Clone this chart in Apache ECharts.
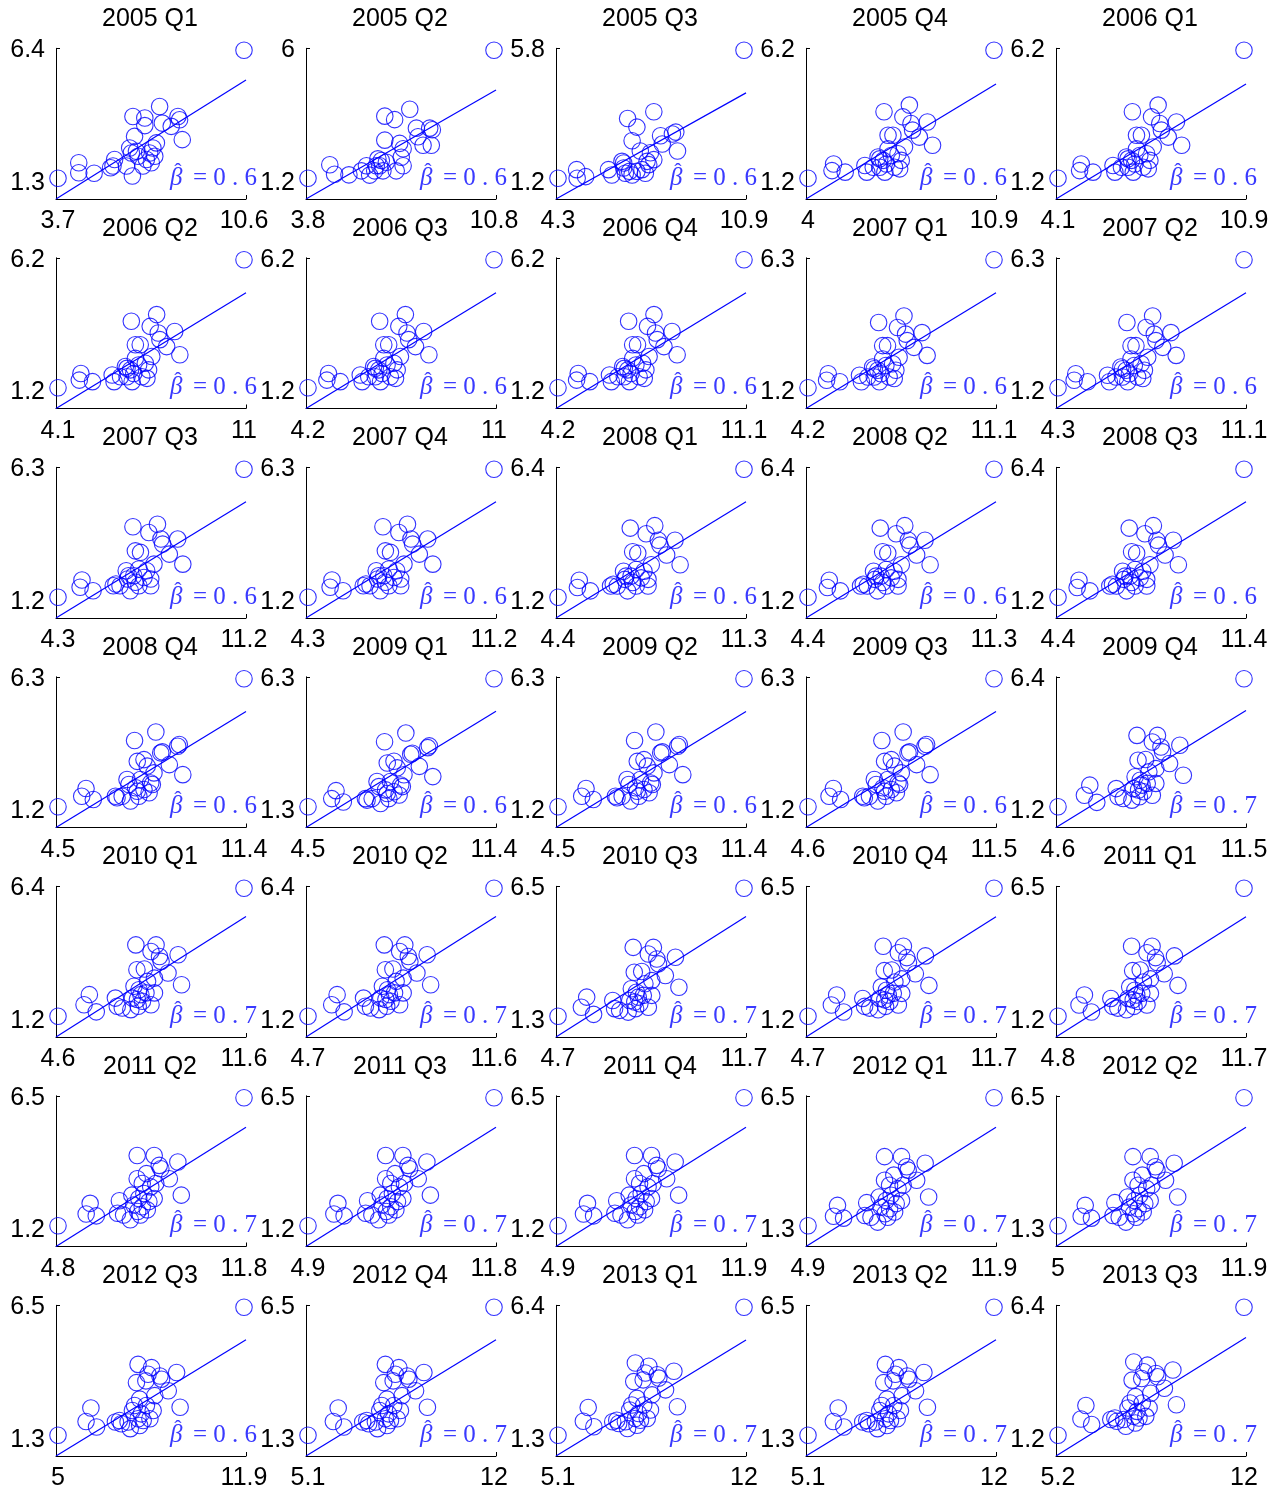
<!DOCTYPE html>
<html>
<head>
<meta charset="utf-8">
<script src="https://cdn.jsdelivr.net/npm/echarts@6/dist/echarts.min.js"></script>
<style>
html, body { margin: 0; padding: 0; background: #fff; }
#chart { width: 1284px; height: 1493px; }
</style>
</head>
<body>
<div id="chart"></div>
<script>
// panel titles, row by row
var quarters = ['2005 Q1', '2005 Q2', '2005 Q3', '2005 Q4', '2006 Q1',
    '2006 Q2', '2006 Q3', '2006 Q4', '2007 Q1', '2007 Q2',
    '2007 Q3', '2007 Q4', '2008 Q1', '2008 Q2', '2008 Q3',
    '2008 Q4', '2009 Q1', '2009 Q2', '2009 Q3', '2009 Q4',
    '2010 Q1', '2010 Q2', '2010 Q3', '2010 Q4', '2011 Q1',
    '2011 Q2', '2011 Q3', '2011 Q4', '2012 Q1', '2012 Q2',
    '2012 Q3', '2012 Q4', '2013 Q1', '2013 Q2', '2013 Q3'];

// tick labels (min / max of each panel)
var xMin = [3.7, 3.8, 4.3, 4, 4.1, 4.1, 4.2, 4.2, 4.2, 4.3, 4.3, 4.3, 4.4, 4.4, 4.4,
    4.5, 4.5, 4.5, 4.6, 4.6, 4.6, 4.7, 4.7, 4.7, 4.8, 4.8, 4.9, 4.9, 4.9, 5,
    5, 5.1, 5.1, 5.1, 5.2];
var xMax = [10.6, 10.8, 10.9, 10.9, 10.9, 11, 11, 11.1, 11.1, 11.1, 11.2, 11.2, 11.3, 11.3, 11.4,
    11.4, 11.4, 11.4, 11.5, 11.5, 11.6, 11.6, 11.7, 11.7, 11.7, 11.8, 11.8, 11.9, 11.9, 11.9,
    11.9, 12, 12, 12, 12];
var yMin = [1.3, 1.2, 1.2, 1.2, 1.2, 1.2, 1.2, 1.2, 1.2, 1.2, 1.2, 1.2, 1.2, 1.2, 1.2,
    1.2, 1.3, 1.2, 1.2, 1.2, 1.2, 1.2, 1.3, 1.2, 1.2, 1.2, 1.2, 1.2, 1.3, 1.3,
    1.3, 1.3, 1.3, 1.3, 1.2];
var yMax = [6.4, 6, 5.8, 6.2, 6.2, 6.2, 6.2, 6.2, 6.3, 6.3, 6.3, 6.3, 6.4, 6.4, 6.4,
    6.3, 6.3, 6.3, 6.3, 6.4, 6.4, 6.4, 6.5, 6.5, 6.5, 6.5, 6.5, 6.5, 6.5, 6.5,
    6.5, 6.5, 6.4, 6.5, 6.4];

// slope estimate and the fitted line's right-end value
var beta = [0.6, 0.6, 0.6, 0.6, 0.6, 0.6, 0.6, 0.6, 0.6, 0.6, 0.6, 0.6, 0.6, 0.6, 0.6,
    0.6, 0.6, 0.6, 0.6, 0.7, 0.7, 0.7, 0.7, 0.7, 0.7, 0.7, 0.7, 0.7, 0.7, 0.7,
    0.6, 0.7, 0.7, 0.7, 0.7];
var lineEnd = [5.22, 4.51, 4.27, 4.88, 4.88, 4.91, 4.91, 4.91, 4.99, 4.99, 5.01, 5.01, 5.08, 5.08, 5.08,
    5.00, 5.03, 5.00, 5.00, 5.11, 5.25, 5.25, 5.35, 5.32, 5.32, 5.28, 5.28, 5.28, 5.30, 5.30,
    5.18, 5.18, 5.10, 5.18, 5.17];

// inner points (the min and max corner points come from the tick labels)
var pts2005Q1 = [[4.47, 1.92], [4.47, 1.52], [5.04, 1.50], [5.65, 1.72], [5.80, 2.05], [6.24, 1.79], [6.46, 1.39],
    [6.42, 2.31], [6.48, 3.76], [6.54, 2.97], [6.92, 3.70], [6.92, 3.40], [6.61, 2.38], [6.85, 1.79], [6.98, 2.05],
    [7.10, 2.31], [7.16, 1.92], [7.29, 2.18], [7.35, 2.71], [7.47, 4.16], [7.57, 3.50], [7.90, 3.37], [8.15, 3.76],
    [8.21, 3.63], [8.31, 2.84], [7.22, 2.51], [6.36, 2.51], [6.67, 2.18], [5.74, 1.79]];
var pts2005Q2 = [[4.62, 1.71], [4.80, 1.35], [5.34, 1.33], [5.81, 1.48], [6.00, 1.67], [6.12, 1.32], [6.31, 1.48],
    [6.43, 1.93], [6.50, 1.67], [6.56, 1.87], [6.69, 3.53], [6.69, 2.63], [6.62, 1.48], [7.06, 3.40], [7.12, 1.48],
    [7.25, 2.51], [7.31, 1.99], [7.38, 2.31], [7.38, 1.67], [7.63, 3.79], [7.88, 3.08], [7.94, 2.76], [8.13, 2.44],
    [8.38, 3.08], [8.48, 3.02], [8.44, 2.44], [6.75, 1.80], [6.37, 1.67]];
var pts2005Q3 = [[4.96, 1.51], [4.98, 1.20], [5.28, 1.26], [6.09, 1.51], [6.21, 1.32], [6.57, 1.81], [6.63, 1.57],
    [6.69, 1.38], [6.77, 3.35], [6.84, 1.45], [6.93, 1.32], [6.93, 2.55], [7.10, 3.04], [7.22, 2.18], [7.28, 1.51],
    [7.40, 1.38], [7.46, 1.81], [7.52, 1.69], [7.58, 2.12], [7.70, 3.59], [7.70, 1.87], [7.94, 2.73], [8.00, 2.43],
    [8.36, 2.79], [8.48, 2.86], [8.54, 2.18], [6.63, 1.75], [7.10, 1.45]];
var pts2006Q1 = [[4.89, 1.50], [4.95, 1.76], [5.38, 1.44], [6.11, 1.70], [6.18, 1.44], [6.42, 1.63], [6.60, 2.03],
    [6.66, 1.63], [6.79, 1.90], [6.82, 3.80], [6.85, 1.44], [6.91, 1.76], [6.97, 2.88], [7.09, 2.09], [7.15, 2.88],
    [7.21, 1.63], [7.34, 2.16], [7.40, 1.57], [7.46, 1.90], [7.52, 3.60], [7.58, 2.42], [7.76, 4.06], [7.82, 3.34],
    [7.88, 3.08], [8.13, 2.81], [8.43, 3.40], [8.62, 2.49], [6.66, 1.96], [6.97, 2.35]];
var pts2007Q3 = [[5.12, 1.60], [5.19, 1.89], [5.60, 1.46], [6.35, 1.66], [6.45, 1.73], [6.60, 1.66], [6.83, 2.26],
    [6.88, 1.93], [6.98, 1.46], [7.08, 4.01], [7.11, 2.06], [7.17, 1.80], [7.17, 3.05], [7.30, 1.66], [7.36, 2.99],
    [7.49, 1.99], [7.59, 2.26], [7.67, 3.78], [7.74, 1.93], [7.74, 1.66], [7.86, 2.52], [7.99, 4.11], [8.12, 3.52],
    [8.18, 3.32], [8.43, 2.92], [8.74, 3.52], [8.93, 2.52], [6.92, 2.06], [7.30, 2.33]];
var pts2008Q4 = [[5.38, 1.62], [5.54, 1.93], [5.81, 1.49], [6.63, 1.62], [6.69, 1.56], [6.88, 1.62], [7.06, 2.29],
    [7.13, 2.09], [7.19, 1.43], [7.34, 3.84], [7.38, 1.96], [7.44, 3.01], [7.44, 1.82], [7.50, 1.62], [7.69, 3.08],
    [7.69, 1.89], [7.81, 2.82], [7.88, 1.76], [7.94, 2.15], [8.00, 2.09], [8.06, 2.55], [8.13, 4.18], [8.31, 3.35],
    [8.37, 3.39], [8.63, 2.88], [8.94, 3.61], [9.00, 3.68], [9.13, 2.48], [7.56, 2.29]];
var pts2010Q1 = [[5.58, 1.67], [5.78, 2.08], [6.04, 1.38], [6.76, 1.94], [6.83, 1.61], [7.02, 1.54], [7.34, 1.47],
    [7.40, 1.94], [7.46, 2.42], [7.53, 4.10], [7.57, 3.09], [7.59, 1.88], [7.62, 1.61], [7.65, 2.28], [7.78, 1.81],
    [7.85, 3.12], [7.91, 2.15], [7.97, 2.62], [8.10, 1.67], [8.10, 3.83], [8.23, 2.75], [8.23, 2.15], [8.29, 4.10],
    [8.42, 3.63], [8.48, 3.43], [8.74, 2.96], [9.12, 3.70], [9.25, 2.48], [7.72, 2.08]];
var pts2011Q2 = [[5.86, 1.69], [6.01, 2.13], [6.24, 1.61], [7.04, 1.72], [7.11, 2.24], [7.27, 1.65], [7.52, 1.45],
    [7.58, 2.47], [7.65, 2.06], [7.78, 4.11], [7.78, 3.15], [7.80, 1.79], [7.84, 2.33], [7.90, 1.65], [7.97, 1.99],
    [8.03, 2.54], [8.13, 3.36], [8.16, 1.86], [8.22, 2.20], [8.29, 2.81], [8.42, 4.11], [8.42, 2.33], [8.48, 2.95],
    [8.61, 3.70], [8.67, 3.56], [8.99, 3.15], [9.31, 3.84], [9.44, 2.47], [7.97, 2.95]];
var pts2012Q3 = [[6.04, 1.86], [6.22, 2.41], [6.43, 1.64], [7.13, 1.84], [7.28, 1.90], [7.35, 1.77], [7.68, 1.57],
    [7.76, 2.31], [7.84, 2.51], [7.91, 3.44], [7.97, 4.18], [7.97, 1.97], [8.03, 1.70], [8.09, 2.17], [8.16, 1.90],
    [8.26, 3.51], [8.28, 2.51], [8.34, 3.78], [8.41, 1.97], [8.47, 4.05], [8.53, 2.31], [8.59, 2.91], [8.78, 3.71],
    [8.84, 3.58], [9.09, 3.11], [9.40, 3.85], [9.53, 2.44], [8.03, 2.77], [7.60, 1.84]];

// which reading each panel uses (neighbouring quarters barely move)
var panelPoints = [pts2005Q1, pts2005Q2, pts2005Q3, pts2006Q1, pts2006Q1,
    pts2006Q1, pts2006Q1, pts2006Q1, pts2006Q1, pts2006Q1,
    pts2007Q3, pts2007Q3, pts2007Q3, pts2007Q3, pts2007Q3,
    pts2008Q4, pts2008Q4, pts2008Q4, pts2008Q4, pts2010Q1,
    pts2010Q1, pts2010Q1, pts2010Q1, pts2010Q1, pts2010Q1,
    pts2011Q2, pts2011Q2, pts2011Q2, pts2011Q2, pts2011Q2,
    pts2012Q3, pts2012Q3, pts2012Q3, pts2012Q3, pts2012Q3];

var BLUE = '#0000ff';
var TEXT_BLUE = '#3a3aff';
var SANS = '"Liberation Sans", Arial, sans-serif';
var SERIF = '"Liberation Serif", "DejaVu Serif", serif';

var grids = [], xAxes = [], yAxes = [], series = [], texts = [];

quarters.forEach(function (q, i) {
    var r = Math.floor(i / 5), c = i % 5;
    var left = 56 + 250 * c, top = 48.3 + 209.5 * r, w = 190, h = 150.7;
    var bottom = top + h;
    var rx = xMax[i] - xMin[i], ry = yMax[i] - yMin[i];
    var xLo = xMin[i] - rx * 2 / 186, xHi = xMax[i] + rx * 2 / 186;
    var yLo = yMin[i] - ry * 20.7 / 128, yHi = yMax[i] + ry * 2 / 128;

    grids.push({left: left, top: top, width: w, height: h});

    xAxes.push({
        gridIndex: i, type: 'value', min: xLo, max: xHi,
        splitLine: {show: false},
        axisLine: {show: true, onZero: false, lineStyle: {color: '#000', width: 1}},
        axisTick: {show: true, inside: true, length: 4, customValues: [xHi], lineStyle: {color: '#000'}},
        axisLabel: {
            show: true, customValues: [xMin[i], xMax[i]], margin: 10,
            color: '#000', fontSize: 25, fontFamily: SANS,
            formatter: function (v) { return String(v); }
        }
    });

    var lo = yMin[i];
    yAxes.push({
        gridIndex: i, type: 'value', min: yLo, max: yHi,
        splitLine: {show: false},
        axisLine: {show: true, onZero: false, lineStyle: {color: '#000', width: 1}},
        axisTick: {show: true, inside: true, length: 4, customValues: [yHi], lineStyle: {color: '#000'}},
        axisLabel: {
            show: true, customValues: [yMin[i], yMax[i]], margin: 11,
            color: '#000', fontSize: 25, fontFamily: SANS,
            formatter: function (v) {
                return v === lo ? '{lo|' + v + '}' : String(v);
            },
            rich: {
                lo: {color: '#000', fontSize: 25, fontFamily: SANS, padding: [9, 0, 0, 0]}
            }
        }
    });

    var data = [[xMin[i], yMin[i]], [xMax[i], yMax[i]]].concat(panelPoints[i]);
    series.push({
        type: 'scatter', xAxisIndex: i, yAxisIndex: i,
        symbol: 'circle', symbolSize: 16.5,
        itemStyle: {color: 'rgba(0,0,0,0)', borderColor: BLUE, borderWidth: 1.1},
        clip: false, silent: true,
        data: data
    });
    series.push({
        type: 'line', xAxisIndex: i, yAxisIndex: i,
        showSymbol: false, silent: true,
        lineStyle: {color: BLUE, width: 1.2},
        data: [[xLo, yLo], [xHi, lineEnd[i]]]
    });

    // panel title
    texts.push({
        type: 'text', x: left + 94, y: top - 29, silent: true,
        style: {text: q, fill: '#000', font: '25px ' + SANS, align: 'center', verticalAlign: 'middle'}
    });
    // beta-hat annotation: beta, its hat, then "= 0.6"
    texts.push({
        type: 'text', x: left + 114, y: bottom - 21, silent: true,
        style: {text: '\u03b2', fill: TEXT_BLUE, font: 'italic 25px ' + SERIF, align: 'left', verticalAlign: 'middle'}
    });
    texts.push({
        type: 'text', x: left + 122, y: bottom - 27, silent: true,
        style: {text: '\u02c6', fill: TEXT_BLUE, font: '22px ' + SERIF, align: 'center', verticalAlign: 'middle'}
    });
    texts.push({
        type: 'text', x: left + 137, y: bottom - 21, silent: true,
        style: {
            text: '= ' + beta[i].toFixed(1).split('').join(' '),
            fill: TEXT_BLUE, font: '25px ' + SERIF, align: 'left', verticalAlign: 'middle'
        }
    });
});

var chart = echarts.init(document.getElementById('chart'));
chart.setOption({
    animation: false,
    backgroundColor: '#fff',
    grid: grids,
    xAxis: xAxes,
    yAxis: yAxes,
    series: series,
    graphic: {elements: texts}
});
</script>
</body>
</html>
